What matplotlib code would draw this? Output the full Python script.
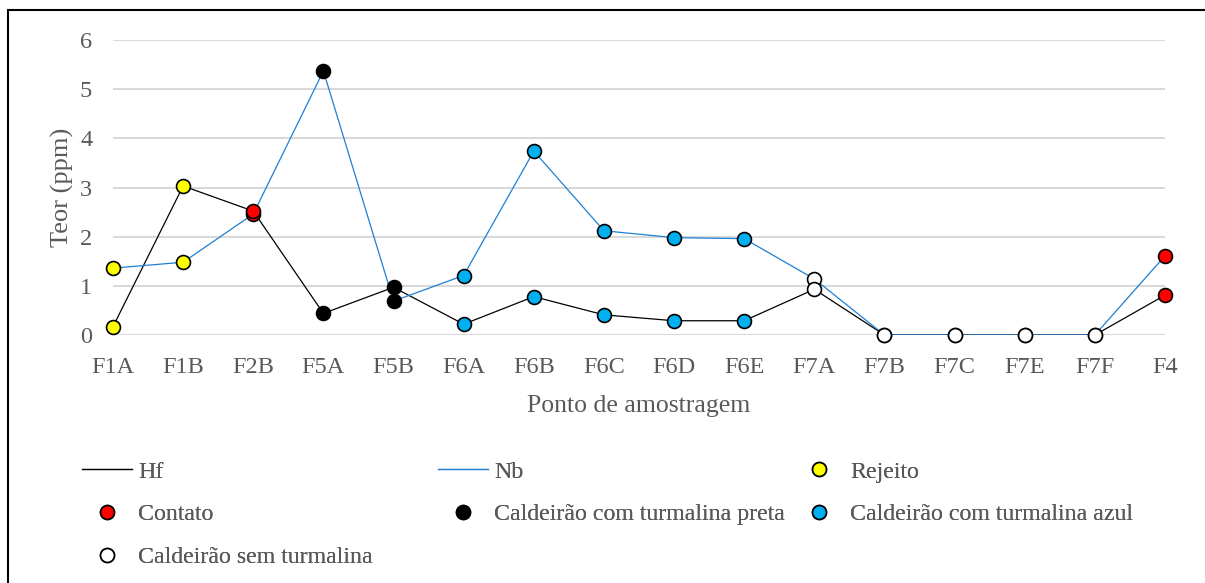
import matplotlib.pyplot as plt
from matplotlib.lines import Line2D
from matplotlib.patches import Rectangle

plt.rcParams['font.family'] = ['Liberation Serif', 'DejaVu Serif']

pontos = ['F1A', 'F1B', 'F2B', 'F5A', 'F5B', 'F6A', 'F6B', 'F6C', 'F6D', 'F6E',
          'F7A', 'F7B', 'F7C', 'F7E', 'F7F', 'F4']
hf = [0.17, 3.03, 2.52, 0.44, 0.97, 0.22, 0.78, 0.41, 0.29, 0.29,
      0.93, 0.0, 0.0, 0.0, 0.0, 0.81]
nb = [1.36, 1.48, 2.46, 5.37, 0.69, 1.21, 3.74, 2.12, 1.98, 1.96,
      1.14, 0.0, 0.0, 0.0, 0.0, 1.61]
# categoria de cada ponto
categoria = ['Rejeito', 'Rejeito', 'Contato', 'Preta', 'Preta', 'Azul', 'Azul', 'Azul',
             'Azul', 'Azul', 'Sem', 'Sem', 'Sem', 'Sem', 'Sem', 'Contato']
cat_nomes = {'Rejeito': 'Rejeito',
             'Contato': 'Contato',
             'Preta': 'Caldeirão com turmalina preta',
             'Azul': 'Caldeirão com turmalina azul',
             'Sem': 'Caldeirão sem turmalina'}
cat_cores = {'Rejeito': '#FFFF00', 'Contato': '#FF0000', 'Preta': '#000000',
             'Azul': '#00B0F0', 'Sem': '#FFFFFF'}

cinza = '#595959'
azul_linha = '#1F7FD4'

fig = plt.figure(figsize=(12.05, 5.83), dpi=100)
ax = fig.add_axes([113 / 1205, 1 - 335 / 583, (1165 - 113) / 1205, 295 / 583])

x = list(range(len(pontos)))
ax.plot(x, hf, color='black', lw=0.9, zorder=3)
ax.plot(x, nb, color=azul_linha, lw=0.9, zorder=3)

# marcadores por categoria (Nb primeiro, Hf por cima)
for serie in [nb, hf]:
    for cat in cat_nomes:
        xs = [i for i in x if categoria[i] == cat]
        ys = [serie[i] for i in xs]
        ax.plot(xs, ys, 'o', ms=10, mfc=cat_cores[cat], mec='black', mew=1.2,
                ls='none', zorder=4, clip_on=False)

ax.set_xlim(0, len(pontos) - 1)
ax.set_ylim(0, 6)
ax.set_xticks(x)
ax.set_xticklabels(pontos)
ax.set_yticks(range(7))
ax.grid(axis='y', color='#D9D9D9', lw=1.5, zorder=0)
ax.set_axisbelow(True)
for s in ax.spines.values():
    s.set_visible(False)
ax.tick_params(axis='x', length=0, pad=16, labelsize=17.5, labelcolor=cinza)
ax.tick_params(axis='y', length=0, pad=15, labelsize=17.5, labelcolor=cinza)
ax.set_xlabel('Ponto de amostragem', fontsize=18.5, color=cinza, labelpad=12)
ax.set_ylabel('Teor (ppm)', fontsize=19, color=cinza, labelpad=4)

# legenda em três colunas
def marcador(cat):
    return Line2D([], [], marker='o', ls='none', ms=10, mfc=cat_cores[cat],
                  mec='black', mew=1.2)

colunas = [
    ([Line2D([], [], color='black', lw=0.9), marcador('Contato'), marcador('Sem')],
     ['Hf', cat_nomes['Contato'], cat_nomes['Sem']], 82),
    ([Line2D([], [], color=azul_linha, lw=0.9), marcador('Preta')],
     ['Nb', cat_nomes['Preta']], 438),
    ([marcador('Rejeito'), marcador('Azul')],
     [cat_nomes['Rejeito'], cat_nomes['Azul']], 794),
]
for handles, labels, x0 in colunas:
    leg = fig.legend(handles, labels, loc='upper left',
                     bbox_to_anchor=(x0 / 1205, 1 - 461 / 583),
                     frameon=False, fontsize=17.2, labelcolor=cinza,
                     handlelength=2.1, handletextpad=0.25, borderpad=0,
                     borderaxespad=0, labelspacing=0.88)
    fig.add_artist(leg)

fig.patches.append(Rectangle((8 / 1205, -0.1), 1.2, 1.1 - 10 / 583, transform=fig.transFigure,
                             fill=False, ec='black', lw=1.5))

fig.savefig('out.png', dpi=100)
